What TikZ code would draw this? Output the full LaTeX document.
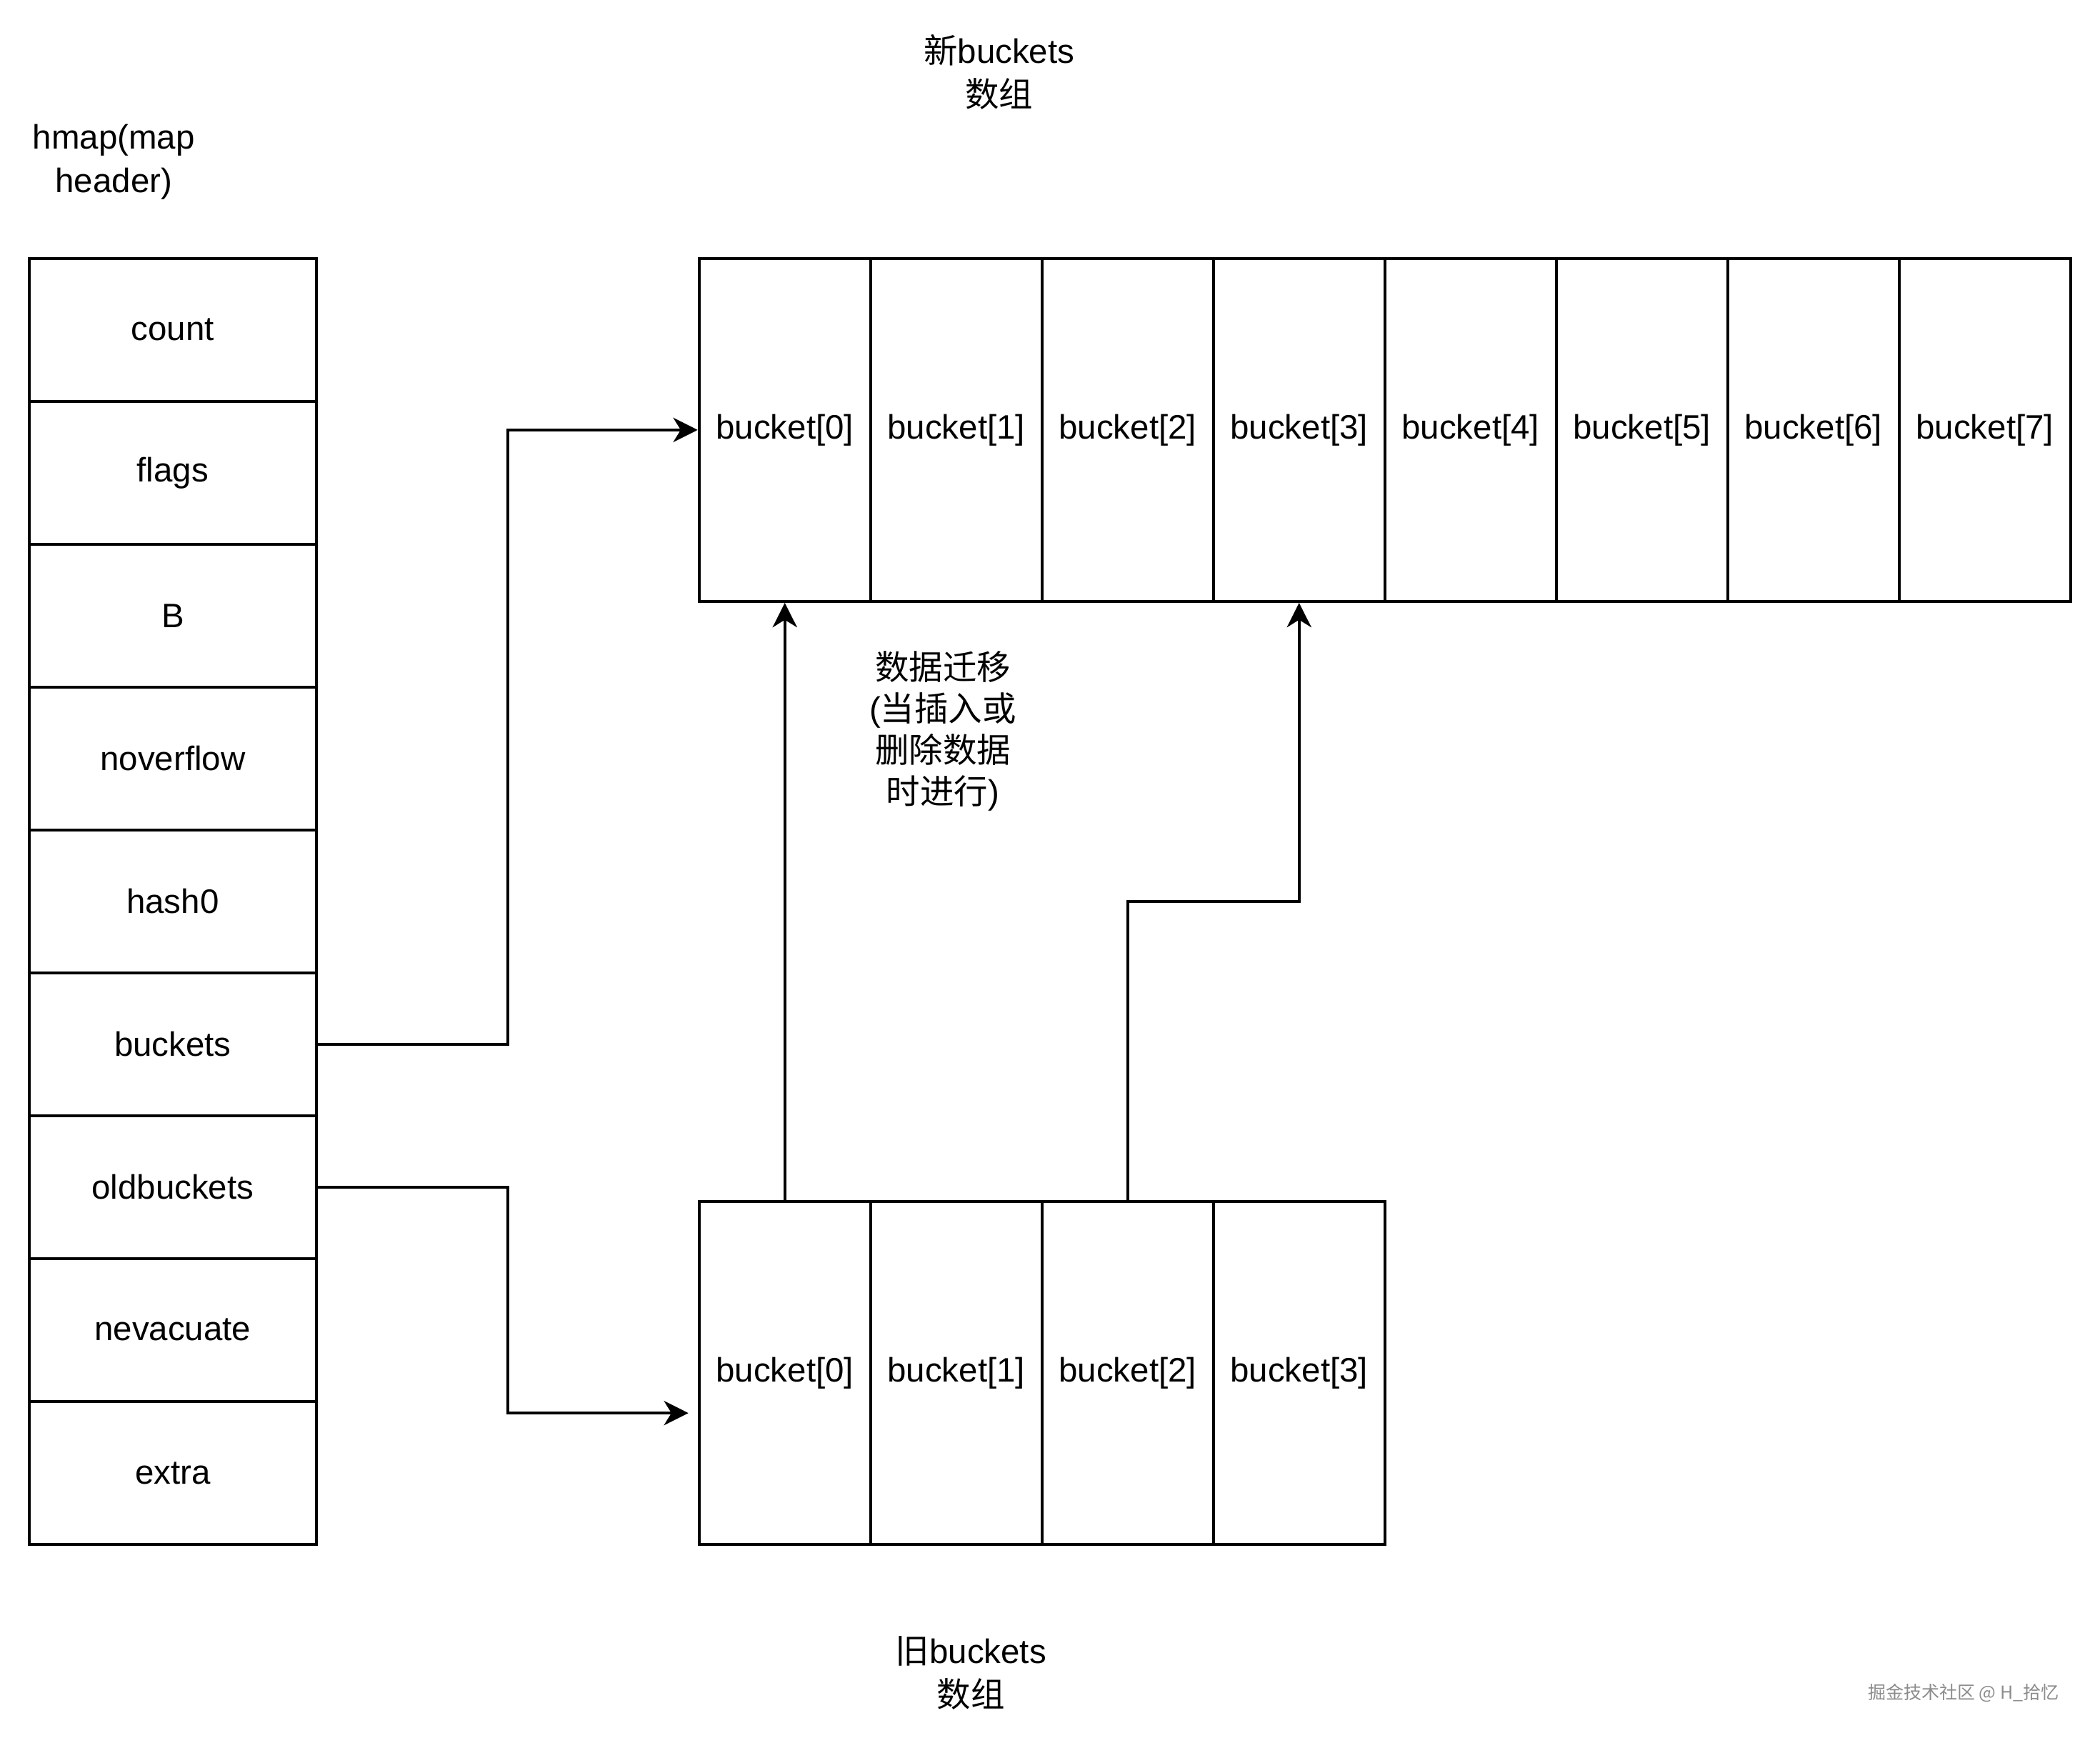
\documentclass[tikz,border=0pt]{standalone}
\usepackage{fontspec}
\setmainfont{Liberation Sans}
\newfontfamily\cjk{Noto Sans CJK SC}
\usetikzlibrary{arrows.meta,calc}

\begin{document}
\begin{tikzpicture}[x=0.025cm, y=-0.025cm, line width=1.5pt,
    font=\fontsize{18}{23}\selectfont,
    field/.style={rectangle, draw, fill=white, minimum width=5.35cm, minimum height=2.667cm, inner sep=0pt},
    cell/.style={rectangle, draw, fill=white, minimum width=3.2cm, minimum height=6.4cm, inner sep=0pt},
    title/.style={align=center},
    link/.style={-{Stealth[length=13pt, width=13pt, inset=4pt]}}]
    \useasboundingbox (0,0) rectangle (1568,1301);

    % Titles
    \node[title] (newtitle) at (746,54) {{\cjk 新}buckets\\{\cjk 数组}};
    \node[title] (htitle) at (85,121) {hmap(map\\header)};
    \node[title] (oldtitle) at (725,1249) {{\cjk 旧}buckets\\{\cjk 数组}};
    \node[title, font=\fontsize{18}{22}\selectfont] (migrate) at (704,546) {{\cjk 数据迁移}\\({\cjk 当插入或}\\{\cjk 删除数据}\\{\cjk 时进行})};

    % Draw hmap fields
    \node[field] (hcount) at (129,246.3) {count};
    \node[field] (hflags) at (129,353) {flags};
    \node[field] (hB) at (129,459.7) {B};
    \node[field] (hnoverflow) at (129,566.3) {noverflow};
    \node[field] (hhash0) at (129,673) {hash0};
    \node[field] (hbuckets) at (129,779.7) {buckets};
    \node[field] (holdbuckets) at (129,886.3) {oldbuckets};
    \node[field] (hnevacuate) at (129,993) {nevacuate};
    \node[field] (hextra) at (129,1099.7) {extra};

    % Draw new buckets
    \node[cell] (nb0) at (586,321) {bucket[0]};
    \node[cell] (nb1) at (714,321) {bucket[1]};
    \node[cell] (nb2) at (842,321) {bucket[2]};
    \node[cell] (nb3) at (970,321) {bucket[3]};
    \node[cell] (nb4) at (1098,321) {bucket[4]};
    \node[cell] (nb5) at (1226,321) {bucket[5]};
    \node[cell] (nb6) at (1354,321) {bucket[6]};
    \node[cell] (nb7) at (1482,321) {bucket[7]};

    % Draw old buckets
    \node[cell] (ob0) at (586,1025) {bucket[0]};
    \node[cell] (ob1) at (714,1025) {bucket[1]};
    \node[cell] (ob2) at (842,1025) {bucket[2]};
    \node[cell] (ob3) at (970,1025) {bucket[3]};

    % Draw connections
    \coordinate (oldin) at (514,1055);
    \draw[link] (hbuckets.east) -- ++(142,0) |- (nb0.west);
    \draw[link] (holdbuckets.east) -- ++(142,0) |- (oldin);
    \draw[link] (ob0.north) -- (nb0.south);
    \draw[link] (ob2.north) |- ($(nb3.south)!.5!(ob3.north)$) -| (nb3.south);

    % Watermark
    \node[text=black!45, font=\cjk\fontsize{9.5}{11}\selectfont] (mark) at (1466,1264) {掘金技术社区 @ H\_拾忆};
\end{tikzpicture}
\end{document}
